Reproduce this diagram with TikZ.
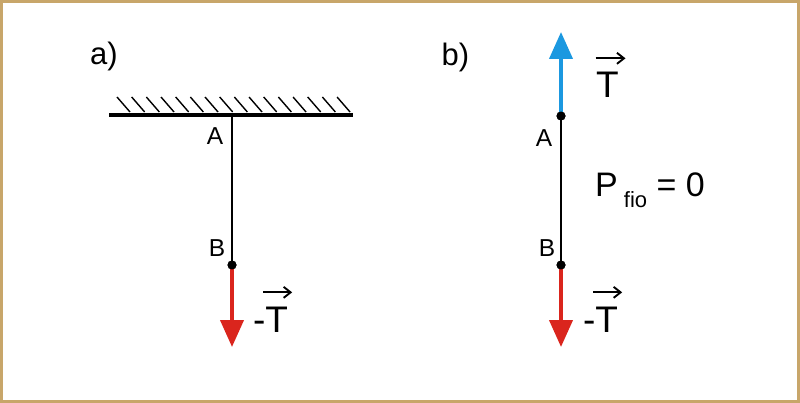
\documentclass[tikz,border=0pt]{standalone}
\usepackage{fontspec}
\setmainfont{Liberation Sans}
\usetikzlibrary{arrows.meta}
\definecolor{frame}{RGB}{200,166,106}
\definecolor{fred}{RGB}{218,37,29}
\definecolor{fblue}{RGB}{27,152,224}
\begin{document}
\begin{tikzpicture}[x=1pt,y=-1pt,
  dot/.style={circle,fill=black,inner sep=0pt,minimum size=9pt},
  wire/.style={line width=2pt},
  ceil/.style={line width=3.4pt},
  hatch/.style={line width=1.4pt},
  force/.style={line width=4pt,-{Triangle[length=27pt,width=23pt]}},
  vec/.style={line width=1.9pt,-{Straight Barb[length=7pt,width=11pt]}},
  lbl/.style={inner sep=0pt,anchor=base,font=\fontsize{31}{36}\selectfont},
  pt/.style={inner sep=0pt,anchor=base,font=\fontsize{24.5}{28}\selectfont},
  big/.style={inner sep=0pt,anchor=base,font=\fontsize{37}{42}\selectfont}]
\useasboundingbox (0,0) rectangle (800,403);
\draw[frame,line width=3pt] (1.5,1.5) rectangle (798.5,401.5);

% ---- panel a ----
\node[lbl] (la) at (104,65) {a)};
\coordinate (ceilL) at (109,115);
\coordinate (ceilR) at (353,115);
\draw[ceil] (ceilL) -- (ceilR);
\foreach \i in {0,...,15}{
  \draw[hatch] ({117+\i*14.67},97) -- ++(13,15);
}
\coordinate (Ca) at (232,115);
\node[dot] (Ba) at (232,265) {};
\coordinate (tipa) at (232,347);
\draw[wire] (Ca) -- (Ba.center);
\draw[force,fred] (Ba.center) -- (tipa);
\node[dot] at (Ba) {};
\node[pt] (Aa) at (215,145) {A};
\node[pt] (BaL) at (217,257) {B};
\node[big] (mTa) at (270.5,332) {-T};
\draw[vec] ([shift={(-25,-14)}]mTa.north east) -- ([shift={(4,-14)}]mTa.north east);

% ---- panel b ----
\node[lbl] (lb) at (455.5,66) {b)};
\node[dot] (Ab) at (561,116) {};
\node[dot] (Bb) at (561,265) {};
\coordinate (tipbu) at (561,32);
\coordinate (tipbd) at (561,347);
\draw[wire] (Ab.center) -- (Bb.center);
\draw[force,fblue] (Ab.center) -- (tipbu);
\draw[force,fred] (Bb.center) -- (tipbd);
\node[dot] at (Ab) {};
\node[dot] at (Bb) {};
\node[pt] (AbL) at (544,147) {A};
\node[pt] (BbL) at (547,257) {B};
\node[big] (Tb) at (607.5,98) {T};
\draw[vec] ([shift={(-12,-14)}]Tb.north) -- ([shift={(18,-14)}]Tb.north);
\node[big] (mTb) at (600.5,332) {-T};
\draw[vec] ([shift={(-25,-14)}]mTb.north east) -- ([shift={(4,-14)}]mTb.north east);
\node[inner sep=0pt,anchor=base west,font=\fontsize{34}{40}\selectfont] (P) at (595,197)
  {P\hspace{6pt}\raisebox{-11pt}{\fontsize{22}{26}\selectfont fio} = 0};
\end{tikzpicture}
\end{document}
